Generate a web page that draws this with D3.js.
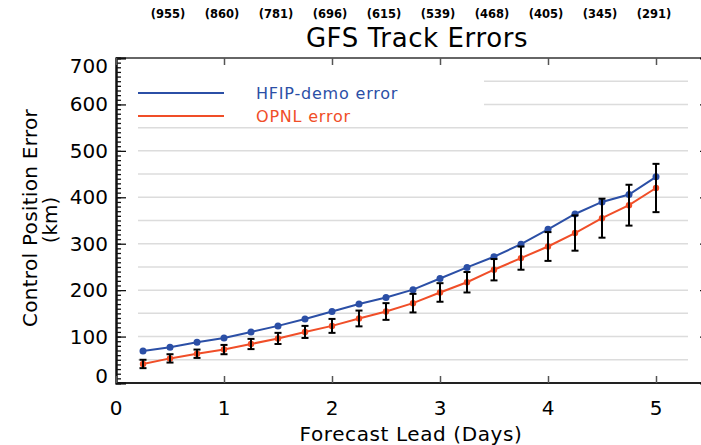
<!DOCTYPE html>
<html>
<head>
<meta charset="utf-8">
<script src="https://cdn.jsdelivr.net/npm/d3@7"></script>
<style>
  body { margin: 0; background: #fff; }
  text { font-family: "DejaVu Sans", sans-serif; }
</style>
</head>
<body>
<script>
  // forecast lead (days)
  var leads = [0.25, 0.5, 0.75, 1, 1.25, 1.5, 1.75, 2, 2.25, 2.5, 2.75, 3,
               3.25, 3.5, 3.75, 4, 4.25, 4.5, 4.75, 5];
  var hfipError = [69, 77, 88, 97, 110, 123, 138, 154, 170, 184, 201, 225,
                   249, 272, 299, 331, 364, 390, 406, 444];
  var opnlError = [41, 53, 63, 72, 84, 96, 110, 123, 139, 154, 172, 195,
                   217, 244, 269, 294, 323, 355, 383, 420];
  var opnlSpread = [9, 9, 9, 10, 11, 12, 13, 15, 17, 18, 20, 20,
                    22, 23, 25, 31, 38, 42, 44, 52];
  // sample counts shown along the top
  var countLeads = [0.5, 1, 1.5, 2, 2.5, 3, 3.5, 4, 4.5, 5];
  var counts = [955, 860, 781, 696, 615, 539, 468, 405, 345, 291];
  var xTicks = [0, 1, 2, 3, 4, 5];
  var yTicks = [0, 100, 200, 300, 400, 500, 600, 700];

  var width = 701, height = 445;
  var blue = '#2b4fa6', red = '#f04e28';

  var svg = d3.select('body').append('svg')
    .attr('width', width).attr('height', height);

  var x = d3.scaleLinear().domain([0, 5.5]).range([116, 710]);
  var y = d3.scaleLinear().domain([0, 700]).range([383, 58]);

  // grid lines every 50, the top ones cut by the legend
  var gridVals = d3.range(50, 700, 50);
  svg.selectAll('line.grid')
    .data(gridVals)
    .enter().append('line')
    .attr('class', 'grid')
    .attr('x1', function(d) { return d >= 600 ? 484 : 138; })
    .attr('x2', 688)
    .attr('y1', function(d) { return y(d); })
    .attr('y2', function(d) { return y(d); })
    .attr('stroke', '#dcdcdc')
    .attr('stroke-width', 1.5);

  // frame
  svg.append('line').attr('x1', 116).attr('x2', 710).attr('y1', 58).attr('y2', 58)
    .attr('stroke', '#666').attr('stroke-width', 2);
  svg.append('line').attr('x1', 116).attr('x2', 710).attr('y1', 383).attr('y2', 383)
    .attr('stroke', '#222').attr('stroke-width', 2);

  // left axis
  var yLeft = svg.append('g').attr('transform', 'translate(116,0)')
    .call(d3.axisLeft(y).tickValues(d3.range(0, 701, 10)).tickSize(-5).tickFormat(''));
  yLeft.append('g')
    .call(d3.axisLeft(y).tickValues(yTicks).tickSize(-10).tickFormat(''));
  yLeft.selectAll('.domain').attr('stroke', '#111').attr('stroke-width', 2);
  yLeft.selectAll('.tick line').attr('stroke', '#111').attr('stroke-width', 1.3);

  svg.selectAll('text.ylab')
    .data(yTicks)
    .enter().append('text')
    .attr('class', 'ylab')
    .attr('x', 108)
    .attr('y', function(d) {
      var off = d === 0 ? -7 : (d === 700 ? 8 : 0);
      return y(d) + off + 7;
    })
    .attr('text-anchor', 'end')
    .attr('font-size', 20)
    .text(function(d) { return d; });

  // right axis
  var yRight = svg.append('g').attr('transform', 'translate(710,0)')
    .call(d3.axisRight(y).tickValues(yTicks).tickSize(-10).tickFormat(''));
  yRight.selectAll('line, path').attr('stroke', '#111').attr('stroke-width', 1.3);

  // bottom and top axes
  var xBottom = svg.append('g').attr('transform', 'translate(0,383)')
    .call(d3.axisBottom(x).tickValues(xTicks).tickSize(-7).tickFormat(''));
  xBottom.select('.domain').remove();
  xBottom.selectAll('.tick line').attr('stroke', '#555').attr('stroke-width', 1.5);

  var xTop = svg.append('g').attr('transform', 'translate(0,58)')
    .call(d3.axisTop(x).tickValues(xTicks).tickSize(-7).tickFormat(''));
  xTop.select('.domain').remove();
  xTop.selectAll('.tick line').attr('stroke', '#555').attr('stroke-width', 1.5);

  svg.selectAll('text.xlab')
    .data(xTicks)
    .enter().append('text')
    .attr('class', 'xlab')
    .attr('x', function(d) { return x(d); })
    .attr('y', 415)
    .attr('text-anchor', 'middle')
    .attr('font-size', 20)
    .text(function(d) { return d; });

  // counts on top
  svg.selectAll('text.count')
    .data(counts)
    .enter().append('text')
    .attr('class', 'count')
    .attr('x', function(d, i) { return x(countLeads[i]) - 2; })
    .attr('y', 18)
    .attr('text-anchor', 'middle')
    .attr('font-size', 11.5)
    .attr('font-weight', 'bold')
    .text(function(d) { return '(' + d + ')'; });

  // titles
  svg.append('text').attr('x', 417).attr('y', 47)
    .attr('text-anchor', 'middle').attr('font-size', 26)
    .attr('letter-spacing', 0.6)
    .text('GFS Track Errors');
  svg.append('text').attr('x', 411).attr('y', 441)
    .attr('text-anchor', 'middle').attr('font-size', 20)
    .attr('letter-spacing', 0.6)
    .text('Forecast Lead (Days)');
  svg.append('text').attr('transform', 'translate(37,218) rotate(-90)')
    .attr('text-anchor', 'middle').attr('font-size', 20)
    .attr('letter-spacing', 0.3)
    .text('Control Position Error');
  svg.append('text').attr('transform', 'translate(57,220) rotate(-90)')
    .attr('text-anchor', 'middle').attr('font-size', 20)
    .text('(km)');

  // series
  var line = d3.line()
    .x(function(d, i) { return x(leads[i]); })
    .y(function(d) { return y(d); });

  svg.append('path').datum(hfipError)
    .attr('d', line).attr('fill', 'none')
    .attr('stroke', blue).attr('stroke-width', 2);
  svg.selectAll('circle.hfip')
    .data(hfipError)
    .enter().append('circle')
    .attr('class', 'hfip')
    .attr('cx', function(d, i) { return x(leads[i]); })
    .attr('cy', function(d) { return y(d); })
    .attr('r', 3.5)
    .attr('fill', blue);

  svg.append('path').datum(opnlError)
    .attr('d', line).attr('fill', 'none')
    .attr('stroke', red).attr('stroke-width', 2);
  svg.selectAll('circle.opnl')
    .data(opnlError)
    .enter().append('circle')
    .attr('class', 'opnl')
    .attr('cx', function(d, i) { return x(leads[i]); })
    .attr('cy', function(d) { return y(d); })
    .attr('r', 3.2)
    .attr('fill', red);

  // error bars
  var bars = svg.selectAll('g.err')
    .data(opnlError)
    .enter().append('g')
    .attr('class', 'err')
    .attr('stroke', '#000')
    .attr('stroke-width', 2);
  bars.append('line')
    .attr('x1', function(d, i) { return x(leads[i]); })
    .attr('x2', function(d, i) { return x(leads[i]); })
    .attr('y1', function(d, i) { return y(d + opnlSpread[i]); })
    .attr('y2', function(d, i) { return y(d - opnlSpread[i]); });
  bars.append('line')
    .attr('x1', function(d, i) { return x(leads[i]) - 3.5; })
    .attr('x2', function(d, i) { return x(leads[i]) + 3.5; })
    .attr('y1', function(d, i) { return y(d + opnlSpread[i]); })
    .attr('y2', function(d, i) { return y(d + opnlSpread[i]); });
  bars.append('line')
    .attr('x1', function(d, i) { return x(leads[i]) - 3.5; })
    .attr('x2', function(d, i) { return x(leads[i]) + 3.5; })
    .attr('y1', function(d, i) { return y(d - opnlSpread[i]); })
    .attr('y2', function(d, i) { return y(d - opnlSpread[i]); });

  // legend
  var legend = [
    { name: 'HFIP-demo error', color: blue, yy: 93 },
    { name: 'OPNL error', color: red, yy: 116 }
  ];
  svg.selectAll('line.leg')
    .data(legend)
    .enter().append('line')
    .attr('x1', 138).attr('x2', 224)
    .attr('y1', function(d) { return d.yy; })
    .attr('y2', function(d) { return d.yy; })
    .attr('stroke', function(d) { return d.color; })
    .attr('stroke-width', 2);
  svg.selectAll('text.leg')
    .data(legend)
    .enter().append('text')
    .attr('x', 256)
    .attr('y', function(d) { return d.yy + 6; })
    .attr('font-size', 16)
    .attr('letter-spacing', 0.8)
    .attr('fill', function(d) { return d.color; })
    .text(function(d) { return d.name; });
</script>
</body>
</html>
